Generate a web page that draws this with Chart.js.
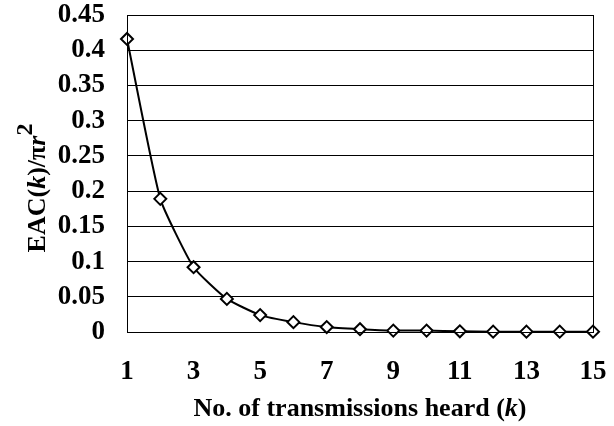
<!DOCTYPE html>
<html>
<head>
<meta charset="utf-8">
<script src="https://cdn.jsdelivr.net/npm/chart.js@4"></script>
<style>
  html, body { margin: 0; padding: 0; background: #fff; }
  #c { display: block; }
</style>
</head>
<body>
<canvas id="c" width="614" height="426"></canvas>
<script>
// dati
const transmissions = [1, 2, 3, 4, 5, 6, 7, 8, 9, 10, 11, 12, 13, 14, 15];
const eacValues = [0.416, 0.189, 0.092, 0.047, 0.024, 0.014, 0.007, 0.004, 0.002, 0.002, 0.001, 0.0005, 0.0005, 0.0005, 0.0005];
const yTicks = [0, 0.05, 0.1, 0.15, 0.2, 0.25, 0.3, 0.35, 0.4, 0.45];
const xTicks = [1, 3, 5, 7, 9, 11, 13, 15];

const serif = '"Liberation Serif", "Times New Roman", serif';

// disegna un testo composto da pezzi con stili diversi
function drawRich(ctx, parts, x, y) {
    let total = 0;
    parts.forEach(p => { ctx.font = p.font; total += ctx.measureText(p.text).width; });
    let cx = x - total / 2;
    parts.forEach(p => {
        ctx.font = p.font;
        ctx.fillText(p.text, cx, y + (p.dy || 0));
        cx += ctx.measureText(p.text).width;
    });
}

// niente padding automatico per le etichette ai bordi
function noPadding(s) {
    s.paddingTop = 0;
    s.paddingBottom = 0;
    s.paddingLeft = 0;
    s.paddingRight = 0;
}

const axisTitles = {
    id: 'axisTitles',
    afterDraw(chart) {
        const ctx = chart.ctx;
        const area = chart.chartArea;
        ctx.save();
        ctx.fillStyle = '#000';
        ctx.textBaseline = 'alphabetic';
        ctx.textAlign = 'left';
        const b = 'bold 26px ' + serif;
        const bi = 'italic bold 26px ' + serif;
        drawRich(ctx, [
            { text: 'No. of transmissions heard (', font: b },
            { text: 'k', font: bi },
            { text: ')', font: b }
        ], 360, 416);
        ctx.translate(45, 188);
        ctx.rotate(-Math.PI / 2);
        drawRich(ctx, [
            { text: 'EAC(', font: b },
            { text: 'k', font: bi },
            { text: ')/\u03c0', font: b },
            { text: 'r', font: bi },
            { text: '2', font: 'bold 24px ' + serif, dy: -13 }
        ], 0, 0);
        ctx.restore();
        // cornice dell'area del grafico
        ctx.save();
        ctx.strokeStyle = '#000';
        ctx.lineWidth = 1;
        ctx.strokeRect(area.left + 0.5, area.top + 0.5, area.right - area.left, area.bottom - area.top);
        ctx.restore();
    }
};

const ctx = document.getElementById('c').getContext('2d');
new Chart(ctx, {
    type: 'line',
    data: {
        labels: transmissions,
        datasets: [{
            data: transmissions.map((k, i) => ({ x: k, y: eacValues[i] })),
            borderColor: '#000',
            borderWidth: 2,
            backgroundColor: '#fff',
            pointStyle: 'rectRot',
            pointRadius: 6,
            pointBorderWidth: 2,
            pointBorderColor: '#000',
            pointBackgroundColor: '#fff',
            tension: 0.15,
            clip: false
        }]
    },
    options: {
        responsive: false,
        animation: false,
        layout: { padding: { top: 15, right: 21, left: 0, bottom: 0 } },
        plugins: { legend: { display: false }, tooltip: { enabled: false } },
        scales: {
            x: {
                type: 'linear',
                min: 1,
                max: 15,
                afterBuildTicks: s => { s.ticks = xTicks.map(v => ({ value: v })); },
                afterFit: s => { s.height = 94; noPadding(s); },
                grid: { display: false, drawTicks: false },
                border: { color: '#000', width: 1 },
                ticks: {
                    padding: 24,
                    autoSkip: false,
                    color: '#000',
                    font: { family: serif, size: 27, weight: 'bold' },
                    maxRotation: 0
                }
            },
            y: {
                min: 0,
                max: 0.45,
                afterBuildTicks: s => { s.ticks = yTicks.map(v => ({ value: v })); },
                afterFit: s => { s.width = 127; noPadding(s); },
                grid: { color: '#000', lineWidth: 1, drawTicks: false },
                border: { color: '#000', width: 1 },
                ticks: {
                    padding: 22,
                    autoSkip: false,
                    color: '#000',
                    font: { family: serif, size: 27, weight: 'bold' },
                    callback: v => String(+v.toFixed(2))
                }
            }
        }
    },
    plugins: [axisTitles]
});
</script>
</body>
</html>
